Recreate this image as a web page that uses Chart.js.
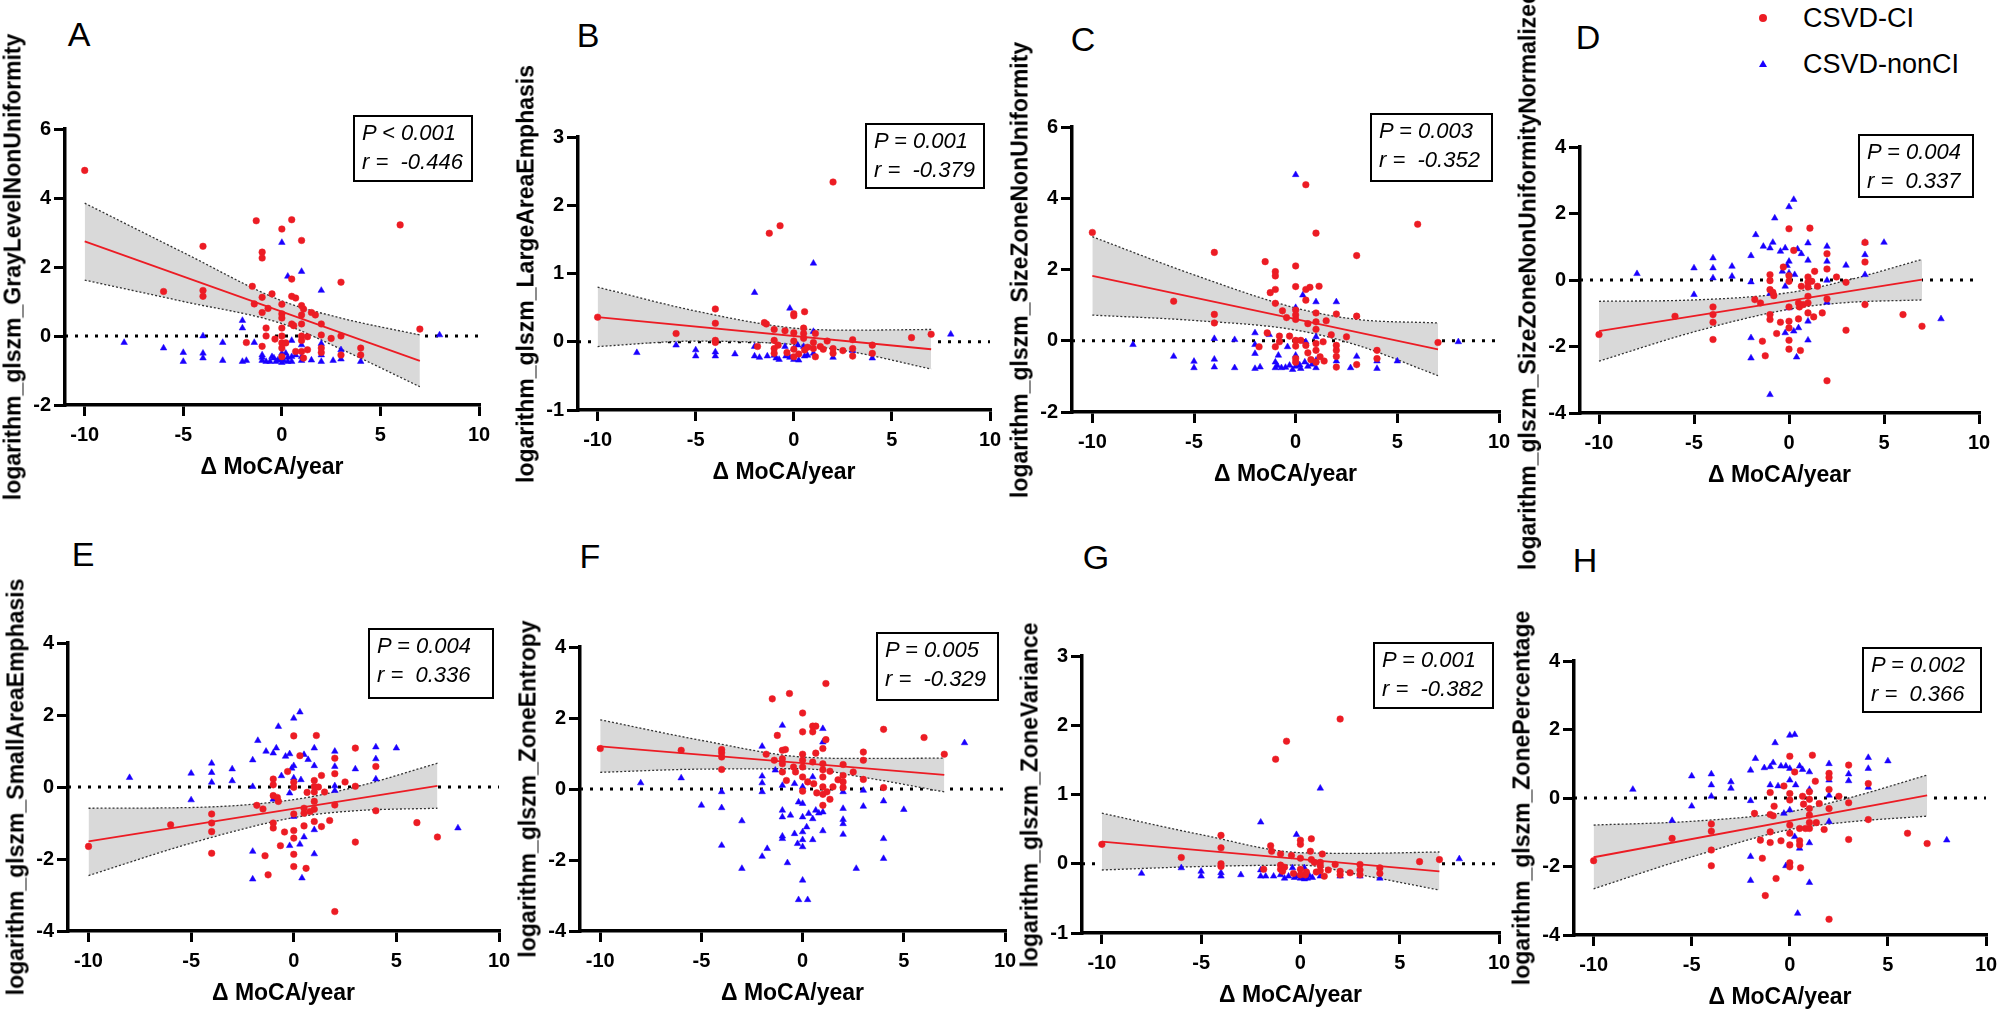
<!DOCTYPE html>
<html>
<head>
<meta charset="utf-8">
<script src="https://cdn.jsdelivr.net/npm/chart.js@4.4.1/dist/chart.umd.min.js"></script>
<style>
  body { margin:0; background:#fff; width:2000px; height:1012px; position:relative; overflow:hidden;
         font-family:'Liberation Sans', Arial, sans-serif; color:#000; }
  canvas { position:absolute; }
  .letter { position:absolute; font-size:34px; line-height:1; transform:translate(-50%,-50%); }
  .ytitle { position:absolute; font-weight:bold; font-size:23px; line-height:1; white-space:nowrap;
            transform:translate(-50%,-50%) rotate(-90deg); }
  .stat { position:absolute; box-sizing:border-box; border:2.5px solid #000; font-style:italic;
          font-size:22px; line-height:29px; padding:1px 0 0 7px; white-space:pre; }
  .leg { position:absolute; font-size:27px; line-height:1; transform:translateY(-50%); white-space:nowrap; }
</style>
</head>
<body>
<script>
// ---- data ----
var xTicks = [-10, -5, 0, 5, 10];
var xRange = [-11, 10];
var yTicks2 = [-2, 0, 2, 4, 6];
var yTicks1 = [-1, 0, 1, 2, 3];
var yTicks4 = [-4, -2, 0, 2, 4];

var letters = ['A', 'B', 'C', 'D', 'E', 'F', 'G', 'H'];
var yTitles = ['logarithm_glszm_GrayLevelNonUniformity', 'logarithm_glszm_LargeAreaEmphasis',
  'logarithm_glszm_SizeZoneNonUniformity', 'logarithm_glszm_SizeZoneNonUniformityNormalized',
  'logarithm_glszm_SmallAreaEmphasis', 'logarithm_glszm_ZoneEntropy',
  'logarithm_glszm_ZoneVariance', 'logarithm_glszm_ZonePercentage'];
var pText = ['P < 0.001', 'P = 0.001', 'P = 0.003', 'P = 0.004', 'P = 0.004', 'P = 0.005', 'P = 0.001', 'P = 0.002'];
var rText = ['r =  -0.446', 'r =  -0.379', 'r =  -0.352', 'r =  0.337', 'r =  0.336', 'r =  -0.329', 'r =  -0.382', 'r =  0.366'];

// A
var redA = [[-10,4.8],[-6,1.29],[-4,2.6],[-4,1.32],[-4,1.15],[-1.8,-0.19],[-1.5,1.44],[-1.4,0.93],[-1.3,3.34],[-1,2.43],[-1,2.26],[-1,1.12],[-1,0.68],[-1,-0.3],[-0.8,0.23],[-0.8,0],[-0.7,0.8],[-0.5,1.22],[-0.35,-0.09],[0,3.1],[0,0.92],[0,0.64],[0,0.52],[0,0.23],[0,0],[0,-0.2],[0,-0.35],[0,-0.6],[0.2,-0.2],[0.5,3.37],[0.5,1.65],[0.5,1.15],[0.5,0.35],[0.6,0.3],[0.7,1.1],[0.7,-0.45],[1,2.77],[1,0.88],[1,0.61],[1,0.35],[1,0],[1,-0.13],[1,-0.45],[1.1,0.78],[1.1,-0.64],[1.3,-0.02],[1.3,-0.4],[1.5,0.68],[1.7,0.61],[2,0.35],[2,0.03],[2,-0.35],[2,-0.48],[2.5,-0.07],[3,1.56],[3,0],[3,-0.55],[4,-0.35],[4,-0.55],[6,3.22],[7,0.2]];
var blueA = [[-8,-0.19],[-6,-0.35],[-5,-0.48],[-5,-0.74],[-4,0],[-4,-0.5],[-4,-0.64],[-3,-0.19],[-3,-0.71],[-2,0.45],[-2,0.23],[-2,-0.74],[-1.8,-0.71],[-1.4,-0.19],[-1,-0.55],[-1,-0.71],[-0.8,-0.74],[-0.6,-0.74],[-0.4,-0.64],[-0.3,-0.74],[0,2.71],[0,-0.5],[0,-0.67],[0,-0.77],[0.2,-0.5],[0.3,-0.74],[0.3,1.73],[0.5,-0.13],[0.5,-0.6],[0.5,-0.74],[1,1.87],[1,-0.26],[1,-0.71],[2,1.32],[2,-0.22],[2,-0.55],[2,-0.74],[2.6,-0.71],[3,-0.4],[3,-0.67],[4,-0.74],[8,0.03],[-0.5,-0.6],[0.3,-0.62],[0.7,-0.55],[1,-0.6],[-1,-0.62],[1.5,-0.7],[-0.2,-0.7],[0.1,-0.72]];
var fitA = [[-10,2.74],[7,-0.72]];
var hiA = [[-10,3.85],[-5,2.42],[0,1.02],[3,0.52],[7,0.03]];
var loA = [[-10,1.62],[-5,1.0],[0,0.36],[3,-0.38],[7,-1.47]];

// B
var redB = [[-10,0.36],[-6,0.12],[-4,0.48],[-4,0.27],[-4,0.02],[-4,-0.01],[-1.85,-0.07],[-1.5,0.28],[-1.4,0.26],[-1.25,1.59],[-1,0.18],[-1,0.02],[-1,-0.1],[-1,-0.17],[-0.8,-0.05],[-0.7,1.7],[-0.45,0.16],[-0.35,-0.16],[0,0.41],[0,0.38],[0,0.13],[0,0.01],[0,-0.11],[0,-0.22],[0.25,-0.18],[0.5,0.2],[0.5,0.12],[0.5,0.05],[0.55,0.44],[0.55,-0.12],[0.7,-0.08],[1,-0.01],[1,-0.1],[1.1,0.12],[1.1,-0.22],[1.35,-0.07],[1.5,-0.11],[1.7,0.01],[2,2.34],[2,-0.1],[2,-0.17],[2.5,-0.13],[3,0.03],[3,-0.1],[3,-0.21],[4,-0.05],[4,-0.17],[6,0.06],[7,0.11]];
var blueB = [[-8,-0.16],[-6,-0.05],[-5,-0.12],[-5,-0.21],[-4,-0.15],[-4,-0.21],[-3,-0.18],[-2,0.72],[-2,-0.07],[-2,-0.21],[-1.75,-0.23],[-1.35,-0.21],[-1,-0.2],[-0.9,-0.24],[-0.75,-0.26],[-0.45,-0.07],[-0.4,-0.21],[-0.2,0.49],[-0.2,-0.23],[0,-0.1],[0,-0.26],[0.2,-0.05],[0.25,-0.27],[0.5,-0.07],[0.55,-0.21],[0.7,-0.2],[1,1.15],[1,0.15],[1,-0.17],[2,-0.23],[3,-0.13],[4,-0.24],[8,0.11]];
var fitB = [[-10,0.36],[7,-0.11]];
var hiB = [[-10,0.8],[-5,0.45],[0,0.2],[3,0.17],[7,0.18]];
var loB = [[-10,-0.07],[-5,0.01],[0,-0.04],[3,-0.15],[7,-0.4]];

// C
var redC = [[-10,3.04],[-6,1.11],[-4,2.48],[-4,0.74],[-4,0.5],[-1.8,-0.17],[-1.5,2.22],[-1.4,0.22],[-1.25,1.35],[-1,1.94],[-1,1.82],[-1,1.44],[-1,1.05],[-1,-0.17],[-0.8,0.13],[-0.8,-0.03],[-0.65,0.84],[-0.45,0.65],[-0.3,0.13],[0,2.1],[0,1.52],[0,0.86],[0,0.72],[0,0.6],[0,0.01],[0,-0.15],[0,-0.5],[0,-0.6],[0.25,0.01],[0.5,4.38],[0.5,1.44],[0.5,1.14],[0.5,-0.13],[0.6,0.48],[0.7,1.5],[0.6,-0.34],[0.75,-0.53],[1,3.02],[1,0.78],[1,0.53],[1,0.32],[1,-0.08],[1,-0.27],[1,-0.6],[1.15,1.53],[1.2,-0.45],[1.35,-0.03],[1.4,-0.57],[1.5,0.56],[1.75,0.17],[2,0.75],[2,-0.13],[2,-0.27],[2,-0.44],[2,-0.74],[2.5,0.11],[3,2.39],[3,0.69],[3,-0.67],[4,-0.27],[4,-0.5],[6,3.27],[7,-0.05]];
var blueC = [[-8,-0.11],[-6,-0.44],[-5,-0.58],[-5,-0.76],[-4,0.06],[-4,-0.52],[-4,-0.74],[-3,0.03],[-3,-0.76],[-2,0.22],[-2,-0.11],[-2,-0.36],[-2,-0.78],[-1.75,-0.74],[-1.3,0.17],[-1,-0.6],[-1,-0.76],[-0.85,-0.41],[-0.7,-0.76],[-0.4,-0.17],[-0.3,-0.69],[-0.15,-0.81],[0,4.66],[0,0.93],[0,-0.41],[0,-0.72],[0.25,-0.78],[0.35,1.28],[0.45,-0.6],[0.5,-0.03],[0.8,-0.66],[1,1.09],[1,0.11],[1,-0.55],[1,-0.76],[2,1.09],[2,-0.57],[2.7,-0.76],[3,-0.44],[4,-0.57],[4,-0.78],[5,-0.57],[8,-0.03],[-0.5,-0.75],[0.2,-0.68],[0.6,-0.72],[-0.9,-0.7]];
var fitC = [[-10,1.82],[7,-0.24]];
var hiC = [[-10,2.92],[-5,1.85],[0,0.92],[3,0.6],[7,0.5]];
var loC = [[-10,0.72],[-5,0.57],[0,0.3],[3,-0.12],[7,-0.98]];

// D
var redD = [[-10,-1.64],[-6,-1.09],[-4,-0.81],[-4,-1.04],[-4,-1.27],[-4,-1.79],[-1.8,-0.59],[-1.5,-0.69],[-1.4,-1.84],[-1.25,-2.28],[-1,0.16],[-1,-0.02],[-1,-0.29],[-1,-1.04],[-1,-1.19],[-0.85,-0.37],[-0.8,-0.47],[-0.65,-1.61],[-0.45,-1.27],[-0.3,0.39],[0,1.54],[0,0.13],[0,-0.04],[0,-0.81],[0,-1.24],[0,-1.44],[0,-1.81],[0,-2.08],[0.25,0.89],[0.5,-0.69],[0.5,-1.17],[0.55,-0.81],[0.6,-2.12],[0.65,-0.19],[0.75,-0.74],[1,0.09],[1,-0.07],[1,-0.21],[1,-0.49],[1,-0.69],[1,-0.99],[1.1,1.56],[1.2,-0.04],[1.3,-1.11],[1.35,0.26],[1.5,-0.19],[1.75,-0.99],[2,0.79],[2,0.33],[2,-0.57],[2,-3.03],[2.5,0.09],[3,-0.07],[3,-1.51],[4,1.13],[4,0.54],[4,-0.74],[6,-1.04],[7,-1.39]];
var blueD = [[-8,0.19],[-5,-0.44],[-5,0.36],[-4,0.66],[-4,0.36],[-4,0.06],[-3,0.41],[-3,0.11],[-2,0.73],[-2,-0.06],[-2,-1.74],[-2,-2.35],[-1.75,1.36],[-1.35,1.01],[-1,0.96],[-1,-0.41],[-1,-3.45],[-0.85,1.13],[-0.75,1.86],[-0.45,0.86],[-0.35,0.26],[-0.2,0.96],[-0.2,-0.19],[-0.2,-1.59],[-0.1,0.43],[0,2.2],[0,0.56],[0,0.21],[0,-0.84],[0.25,2.42],[0.25,-1.54],[0.3,0.16],[0.4,-2.32],[0.45,0.93],[0.5,-1.44],[0.65,0.79],[1,1.11],[1,0.59],[1,-1.24],[1,-1.81],[2,1.01],[2,0.56],[2,-0.01],[2,-0.67],[3,0.44],[4,1.13],[4,0.76],[4,0.16],[5,1.13],[8,-1.17]];
var fitD = [[-10,-1.54],[7,0.01]];
var hiD = [[-10,-0.64],[-5,-0.6],[0,-0.38],[3,-0.02],[7,0.62]];
var loD = [[-10,-2.44],[-5,-1.56],[0,-0.88],[3,-0.68],[7,-0.6]];

// E
var redE = [[-10,-1.65],[-6,-1.05],[-4,-0.75],[-4,-1.0],[-4,-1.24],[-4,-1.84],[-1.8,-0.51],[-1.5,-0.61],[-1.4,-1.91],[-1.25,-2.44],[-1,0.22],[-1,0.06],[-1,-0.24],[-1,-1.0],[-1,-1.14],[-0.8,-0.29],[-0.75,-0.4],[-0.65,-1.63],[-0.45,-1.25],[-0.3,0.43],[0,1.42],[0,0.13],[0,-0.01],[0,-0.75],[0,-1.21],[0,-1.42],[0,-1.87],[0,-2.21],[0.3,0.87],[0.5,-0.59],[0.5,-1.08],[0.5,-0.73],[0.6,-2.26],[0.65,-0.15],[0.8,-0.68],[1,0.18],[1,0.01],[1,-0.14],[1,-0.4],[1,-0.62],[1,-0.96],[1.1,1.43],[1.2,0],[1.35,-1.1],[1.35,0.32],[1.5,-0.14],[1.75,-0.93],[2,0.8],[2,0.37],[2,-0.5],[2,-3.46],[2.5,0.14],[3,0.02],[3,-1.53],[3,1.08],[4,0.57],[4,-0.66],[6,-0.99],[7,-1.39]];
var blueE = [[-8,0.26],[-5,0.38],[-5,-0.36],[-4,0.66],[-4,0.4],[-4,0.13],[-3,0.5],[-3,0.17],[-2,0.75],[-2,0.01],[-2,-1.79],[-2,-2.56],[-1.75,1.29],[-1.35,0.99],[-1,0.94],[-1,-0.34],[-0.85,1.08],[-0.75,1.68],[-0.4,0.85],[-0.6,0.31],[-0.2,0.92],[-0.2,-0.17],[-0.2,-1.63],[-0.1,0.52],[0,1.91],[0,0.59],[0,0.25],[0,-0.82],[0.3,2.08],[0.3,-1.59],[0.35,0.2],[0.4,-2.53],[0.5,0.9],[0.5,-1.39],[0.7,0.76],[1,1.08],[1,0.59],[1,-1.19],[1,-1.86],[2,0.99],[2,0.57],[2,0.03],[2,-0.1],[3,0.5],[4,1.11],[4,0.78],[4,0.22],[5,1.08],[8,-1.14]];
var fitE = [[-10,-1.51],[7,0.03]];
var hiE = [[-10,-0.59],[-5,-0.57],[0,-0.35],[3,0],[7,0.66]];
var loE = [[-10,-2.46],[-5,-1.56],[0,-0.85],[3,-0.66],[7,-0.59]];

// F
var redF = [[-10,1.14],[-6,1.09],[-4,1.11],[-4,1.02],[-4,0.9],[-4,0.55],[-1.8,0.98],[-1.5,2.54],[-1.4,0.81],[-1.25,1.51],[-1,1.09],[-1,0.85],[-1,0.71],[-1,0.48],[-0.85,1.11],[-0.8,0.24],[-0.65,2.69],[-0.45,0.62],[-0.35,0.48],[0,2.14],[0,1.61],[0,0.98],[0,0.81],[0,0.62],[0,0.34],[0,-0.06],[0.25,0.2],[0.5,1.77],[0.5,1.61],[0.5,0.76],[0.55,0.15],[0.65,1.77],[0.65,1.01],[0.7,-0.11],[1,1.14],[1,0.71],[1,0.54],[1,0.34],[1,0.06],[1,-0.15],[1,-0.46],[1.15,2.97],[1.15,1.39],[1.2,-0.08],[1.35,0.5],[1.35,-0.29],[1.5,0.06],[1.75,0.26],[2,0.69],[2,0.38],[2,0.2],[2,0.04],[2.5,0.48],[3,1.04],[3,0.81],[3,0.27],[4,1.68],[4,0.04],[6,1.45],[7,0.98]];
var blueF = [[-8,0.17],[-6,0.31],[-5,-0.46],[-4,-0.08],[-4,-0.53],[-4,-1.59],[-3,-0.9],[-3,-2.24],[-2,1.2],[-2,0.36],[-2,0.17],[-2,-0.08],[-2,-1.9],[-1.75,-1.68],[-1.35,0.53],[-1,1.79],[-1,0.1],[-1,-0.6],[-1,-0.79],[-1,-1.33],[-1,-1.4],[-0.75,-2.08],[-0.6,-0.74],[-0.4,0.15],[-0.4,-1.26],[-0.25,-1.54],[-0.2,-0.37],[-0.2,-3.12],[0,0.06],[0,-0.41],[0,-0.79],[0,-1.21],[0,-1.43],[0,-1.63],[0,-2.57],[0.2,-1.07],[0.25,-3.12],[0.3,-0.69],[0.5,0.34],[0.5,-0.84],[0.5,-1.43],[0.65,-0.6],[0.8,-0.68],[1,1.7],[1,1.32],[1,-0.65],[1,-1.18],[2,-0.08],[2,-0.55],[2,-0.86],[2,-0.98],[2,-1.28],[2.65,-2.24],[3,-0.04],[3,-0.49],[4,-0.34],[4,-1.4],[4,-1.96],[5,-0.58],[8,1.3]];
var fitF = [[-10,1.2],[7,0.4]];
var hiF = [[-10,1.95],[-5,1.37],[0,0.9],[3,0.86],[7,0.87]];
var loF = [[-10,0.47],[-5,0.56],[0,0.57],[3,0.33],[7,-0.08]];

// G
var redG = [[-10,0.28],[-6,0.09],[-4,0.41],[-4,0.23],[-4,0],[-4,-0.04],[-1.85,-0.08],[-1.5,0.26],[-1.45,0.18],[-1.25,1.51],[-1,0.14],[-1,-0.02],[-1,-0.08],[-0.9,-0.11],[-0.7,1.77],[-0.45,0.12],[-0.35,-0.14],[0,0.34],[0,0.28],[0,0.08],[0,-0.08],[0,-0.16],[0.25,-0.16],[0.5,0.18],[0.55,0.36],[0.55,0.06],[0.7,0.02],[1,-0.03],[1,-0.1],[1.1,0.14],[1.2,-0.18],[1.4,-0.09],[1.75,-0.01],[2,2.09],[2,-0.11],[2,-0.16],[2.5,-0.13],[3,-0.01],[3,-0.09],[3,-0.16],[4,-0.06],[4,-0.14],[6,0.03],[7,0.06],[-0.8,-0.05],[0.3,-0.12],[0.8,-0.12],[1,0.02]];
var blueG = [[-8,-0.14],[-6,-0.06],[-5,-0.11],[-5,-0.18],[-4,-0.13],[-4,-0.18],[-3,-0.16],[-2,0.6],[-2,-0.09],[-2,-0.18],[-1.75,-0.18],[-1.35,-0.18],[-1,-0.16],[-0.8,-0.21],[-0.6,-0.18],[-0.4,-0.06],[-0.2,0.42],[-0.2,-0.18],[0,-0.21],[0.2,-0.06],[0.2,-0.22],[0.45,-0.17],[1,1.09],[1,-0.18],[2,-0.18],[3,-0.18],[4,-0.21],[8,0.07],[-0.3,-0.2],[0.1,-0.19],[0.6,-0.2],[0.35,-0.21]];
var fitG = [[-10,0.32],[7,-0.11]];
var hiG = [[-10,0.73],[-5,0.42],[0,0.16],[3,0.15],[7,0.17]];
var loG = [[-10,-0.09],[-5,-0.04],[0,-0.02],[3,-0.16],[7,-0.38]];

// H
var redH = [[-10,-1.83],[-6,-1.18],[-4,-0.76],[-4,-0.97],[-4,-1.52],[-4,-1.98],[-1.8,-0.45],[-1.5,-1.23],[-1.4,-1.76],[-1.25,-2.85],[-1,0.16],[-1,-0.48],[-1,-0.99],[-1,-1.3],[-0.85,-0.52],[-0.8,-0.24],[-0.7,-2.35],[-0.45,-1.25],[-0.3,0.35],[0,1.22],[0,0.13],[0,-0.06],[0,-0.79],[0,-1.03],[0,-1.37],[0,-1.89],[0,-2.01],[0.25,0.76],[0.5,-0.89],[0.5,-1.25],[0.5,-1.37],[0.55,-2.04],[0.65,0.05],[0.7,-0.18],[0.8,-0.89],[1,0.18],[1,-0.04],[1,-0.31],[1,-0.5],[1,-0.72],[1,-0.89],[1.15,1.25],[1.3,0.49],[1.35,-0.72],[1.5,-0.16],[1.75,-0.92],[2,0.72],[2,0.6],[2,0.25],[2,-0.31],[2,-3.54],[2.5,0.05],[3,0.96],[3,-0.14],[3,-1.21],[4,0.42],[4,-0.63],[6,-1.03],[7,-1.33]];
var blueH = [[-8,0.25],[-6,-0.66],[-5,0.64],[-5,-0.24],[-4,0.7],[-4,0.38],[-4,0.05],[-3,0.47],[-3,0.28],[-2,0.81],[-2,-0.08],[-2,-1.71],[-2,-2.41],[-1.75,1.15],[-1.3,0.88],[-1,0.91],[-1,0.38],[-0.85,1.03],[-0.75,1.61],[-0.6,0.35],[-0.45,0.93],[-0.3,-0.45],[-0.2,0.93],[-0.2,-1.98],[0,1.83],[0,0.86],[0,0.52],[0,-0.35],[0.25,1.85],[0.25,-1.13],[0.3,0.38],[0.4,-3.37],[0.5,0.93],[0.5,-1.47],[0.65,0.83],[1,0.76],[1,0.25],[1,-1.31],[1,-2.47],[2,1.0],[2,0.52],[2,0.08],[2,-0.69],[3,0.7],[3,0.5],[4,1.18],[4,0.86],[4,0.31],[5,1.08],[8,-1.23]];
var fitH = [[-10,-1.73],[7,0.08]];
var hiH = [[-10,-0.79],[-5,-0.68],[0,-0.4],[3,0],[7,0.67]];
var loH = [[-10,-2.65],[-5,-1.72],[0,-0.92],[3,-0.7],[7,-0.53]];

// ---- layout ----
var FONT = "'Liberation Sans', Arial, sans-serif";
var RED = '#ec1c24';
var BLUE = '#1a00ff';

var panels = [
  {L:65,   R:479,  T:129, B:405, yMin:-2, yMax:6, yt:yTicks2, red:redA, blue:blueA, fit:fitA, hi:hiA, lo:loA, lx:79,   ly:34,  box:[353,115,120,67]},
  {L:578,  R:990,  T:137, B:410, yMin:-1, yMax:3, yt:yTicks1, red:redB, blue:blueB, fit:fitB, hi:hiB, lo:loB, lx:588,  ly:35,  box:[865,123,120,66]},
  {L:1072, R:1499, T:127, B:412, yMin:-2, yMax:6, yt:yTicks2, red:redC, blue:blueC, fit:fitC, hi:hiC, lo:loC, lx:1083, ly:39,  box:[1370,113,123,69]},
  {L:1580, R:1979, T:147, B:413, yMin:-4, yMax:4, yt:yTicks4, red:redD, blue:blueD, fit:fitD, hi:hiD, lo:loD, lx:1588, ly:37,  box:[1858,134,116,64]},
  {L:68,   R:499,  T:643, B:931, yMin:-4, yMax:4, yt:yTicks4, red:redE, blue:blueE, fit:fitE, hi:hiE, lo:loE, lx:83,   ly:554, box:[368,628,126,71]},
  {L:580,  R:1005, T:647, B:931, yMin:-4, yMax:4, yt:yTicks4, red:redF, blue:blueF, fit:fitF, hi:hiF, lo:loF, lx:590,  ly:556, box:[876,632,123,69]},
  {L:1082, R:1499, T:656, B:933, yMin:-1, yMax:3, yt:yTicks1, red:redG, blue:blueG, fit:fitG, hi:hiG, lo:loG, lx:1096, ly:557, box:[1373,642,121,67]},
  {L:1574, R:1986, T:661, B:935, yMin:-4, yMax:4, yt:yTicks4, red:redH, blue:blueH, fit:fitH, hi:hiH, lo:loH, lx:1585, ly:560, box:[1862,647,120,66]}
];

function pts(a) { return a.map(function (d) { return {x: d[0], y: d[1]}; }); }

function addDiv(cls, text, css) {
  var d = document.createElement('div');
  d.className = cls;
  d.textContent = text;
  d.style.cssText = css;
  document.body.appendChild(d);
  return d;
}

panels.forEach(function (p, i) {
  var cv = document.createElement('canvas');
  cv.width = p.R - p.L + 65 + 20;
  cv.height = p.B - p.T + 20 + 80;
  cv.style.left = (p.L - 65) + 'px';
  cv.style.top = (p.T - 20) + 'px';
  document.body.appendChild(cv);

  var lineOpts = {showLine: true, pointRadius: 0, fill: false};
  new Chart(cv.getContext('2d'), {
    type: 'line',
    data: {
      datasets: [
        {data: pts(p.red), showLine: false, pointStyle: 'circle', pointRadius: 3.3,
         pointBackgroundColor: RED, pointBorderColor: RED, pointBorderWidth: 0.5},
        {data: pts(p.blue), showLine: false, pointStyle: 'triangle', pointRadius: 3.8,
         pointBackgroundColor: BLUE, pointBorderColor: BLUE, pointBorderWidth: 0.5},
        Object.assign({data: pts(p.fit), borderColor: RED, borderWidth: 1.8}, lineOpts),
        Object.assign({data: pts(p.hi), borderColor: '#333', borderWidth: 1.3, borderDash: [2, 2],
          cubicInterpolationMode: 'monotone'}, lineOpts),
        Object.assign({data: pts(p.lo), borderColor: '#333', borderWidth: 1.3, borderDash: [2, 2],
          cubicInterpolationMode: 'monotone'}, lineOpts, {fill: '-1', backgroundColor: '#d9d9d9'}),
        Object.assign({data: xRange.map(function (x) { return {x: x, y: 0}; }),
          borderColor: '#000', borderWidth: 3, borderDash: [3, 7]}, lineOpts)
      ]
    },
    options: {
      responsive: false,
      animation: false,
      events: [],
      layout: {padding: {top: 20, right: 20, bottom: 0, left: 0}},
      plugins: {legend: {display: false}, tooltip: {enabled: false}},
      scales: {
        x: {
          type: 'linear', min: xRange[0], max: xRange[1],
          afterBuildTicks: function (s) { s.ticks = xTicks.map(function (v) { return {value: v}; }); },
          afterFit: function (s) { s.height = 80; },
          border: {display: true, width: 3.5, color: '#000'},
          grid: {drawOnChartArea: false, drawTicks: true, tickLength: 11, lineWidth: 3, tickWidth: 3, tickColor: '#000', color: '#000'},
          ticks: {color: '#000', padding: 7, maxRotation: 0, font: {family: FONT, size: 20, weight: 'bold'}},
          title: {display: true, text: 'Δ MoCA/year', color: '#000', padding: {top: 0, bottom: 4},
                  font: {family: FONT, size: 23, weight: 'bold'}}
        },
        y: {
          type: 'linear', min: p.yMin, max: p.yMax,
          afterBuildTicks: function (s) { s.ticks = p.yt.map(function (v) { return {value: v}; }); },
          afterFit: function (s) { s.width = 65; },
          border: {display: true, width: 3.5, color: '#000'},
          grid: {drawOnChartArea: false, drawTicks: true, tickLength: 11, lineWidth: 3, tickWidth: 3, tickColor: '#000', color: '#000'},
          ticks: {color: '#000', padding: 3, font: {family: FONT, size: 20, weight: 'bold'}}
        }
      }
    }
  });

  addDiv('ytitle', yTitles[i], 'left:' + (p.L - 52) + 'px;top:' + ((p.T + p.B) / 2) + 'px;');
  addDiv('letter', letters[i], 'left:' + p.lx + 'px;top:' + p.ly + 'px;');
  addDiv('stat', pText[i] + '\n' + rText[i],
    'left:' + p.box[0] + 'px;top:' + p.box[1] + 'px;width:' + p.box[2] + 'px;height:' + p.box[3] + 'px;');
});

// legend (top right)
addDiv('', '', 'position:absolute;left:1759px;top:14px;width:8px;height:8px;border-radius:50%;background:' + RED + ';');
addDiv('leg', 'CSVD-CI', 'left:1803px;top:18px;');
addDiv('', '', 'position:absolute;left:1759px;top:60px;width:0;height:0;border-left:4px solid transparent;border-right:4px solid transparent;border-bottom:7px solid ' + BLUE + ';');
addDiv('leg', 'CSVD-nonCI', 'left:1803px;top:64px;');
</script>
</body>
</html>
